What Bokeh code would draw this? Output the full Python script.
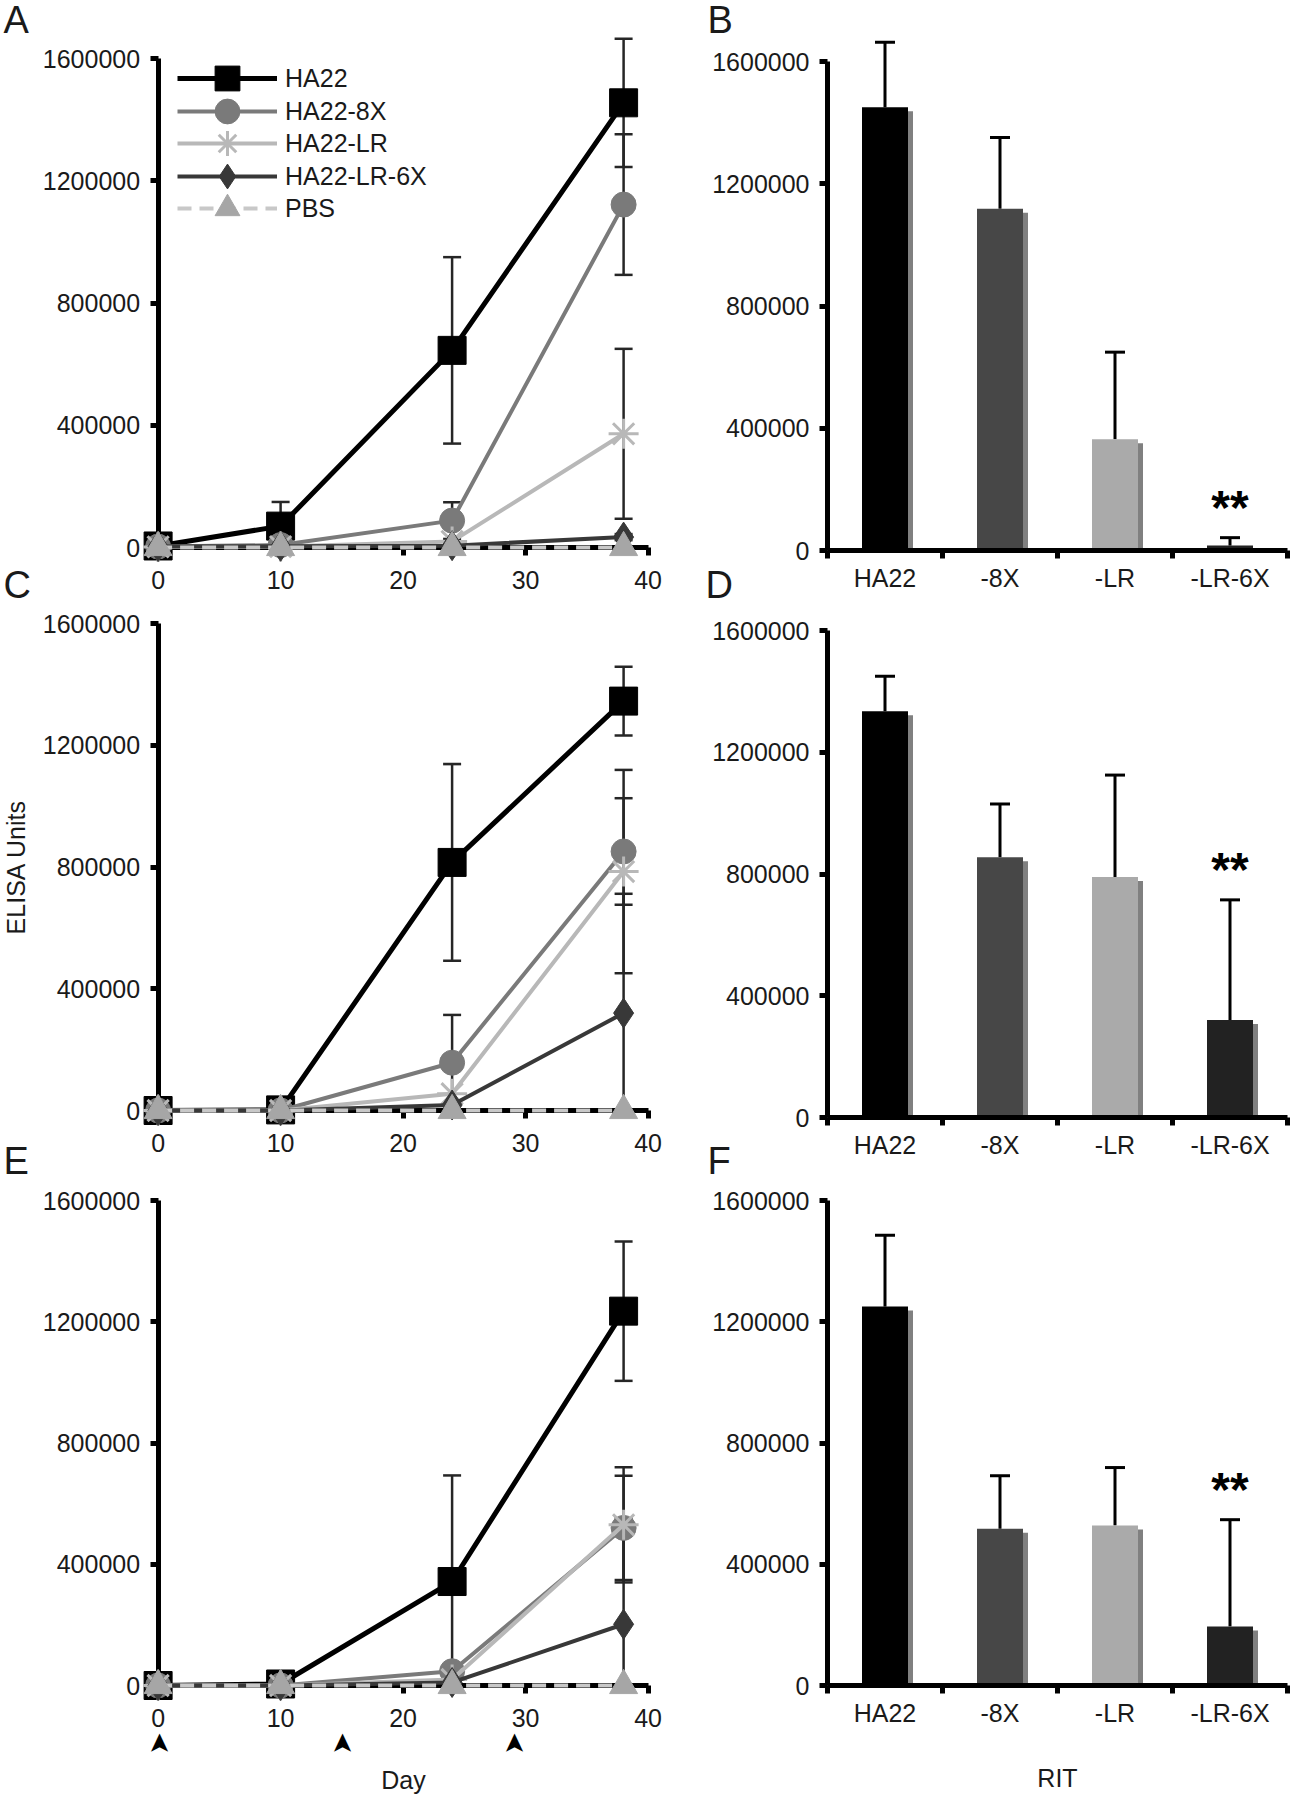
import math
from bokeh.plotting import figure
from bokeh.models import (ColumnDataSource, Whisker, TeeHead, Legend, LegendItem,
                          LinearAxis, FixedTicker, NumeralTickFormatter, Label, Range1d)
from bokeh.layouts import column, row
from bokeh.embed import file_html
from bokeh.resources import INLINE
from bokeh.core.properties import value

# ---------------------------------------------------------------- data
DAYS = [0, 10, 24, 38]
X_TICKS = [0, 10, 20, 30, 40]
Y_TICKS = [0, 400000, 800000, 1200000, 1600000]
SERIES = ["HA22", "HA22-8X", "HA22-LR", "HA22-LR-6X", "PBS"]
INJECTION_DAYS = [0, 15, 29]

# panel A
A_HA22 = [5000, 70000, 645000, 1455000]
A_HA22_ERR = [0, 79000, 305000, 210000]
A_8X = [3000, 8000, 88000, 1122000]
A_8X_ERR = [0, 0, 60000, 230000]
A_LR = [2000, 3000, 20000, 372000]
A_LR_ERR = [0, 0, 0, 278000]
A_LR6X = [3000, 4000, 6000, 34000]
A_LR6X_ERR = [0, 0, 0, 10000]
A_PBS = [0, 0, 0, 0]
A_PBS_ERR = [0, 0, 0, 0]

# panel C
C_HA22 = [0, 2000, 815000, 1345000]
C_HA22_ERR = [0, 0, 323000, 113000]
C_8X = [0, 0, 157000, 851000]
C_8X_ERR = [0, 0, 157000, 175000]
C_LR = [0, 0, 55000, 785000]
C_LR_ERR = [0, 0, 0, 334000]
C_LR6X = [0, 0, 18000, 320000]
C_LR6X_ERR = [0, 0, 0, 392000]
C_PBS = [0, 0, 0, 0]
C_PBS_ERR = [0, 0, 0, 0]

# panel E
E_HA22 = [0, 5000, 343000, 1235000]
E_HA22_ERR = [0, 0, 350000, 230000]
E_8X = [0, 0, 47000, 520000]
E_8X_ERR = [0, 0, 0, 172000]
E_LR = [0, 0, 20000, 530000]
E_LR_ERR = [0, 0, 0, 190000]
E_LR6X = [0, 0, 10000, 202000]
E_LR6X_ERR = [0, 0, 0, 350000]
E_PBS = [0, 0, 0, 0]
E_PBS_ERR = [0, 0, 0, 0]

# bar panels
CATEGORIES = ["HA22", "-8X", "-LR", "-LR-6X"]
B_VALUES = [1450000, 1118000, 364000, 16000]
B_ERR = [213000, 233000, 285000, 26000]
B_SIG = ["", "", "", "**"]
D_VALUES = [1335000, 855000, 790000, 320000]
D_ERR = [115000, 175000, 335000, 395000]
D_SIG = ["", "", "", "**"]
F_VALUES = [1250000, 517000, 528000, 195000]
F_ERR = [235000, 175000, 191000, 352000]
F_SIG = ["", "", "", "**"]

PANEL_LETTERS = ["A", "B", "C", "D", "E", "F"]

# ---------------------------------------------------------------- style
FONT = "Liberation Sans"
TXT = "#1a1a1a"
STYLE = {
    "HA22":       dict(color="#000000", mcolor="#000000", marker="square",   size=28, lw=5, dash="solid"),
    "HA22-8X":    dict(color="#7a7a7a", mcolor="#7a7a7a", marker="circle",   size=25, lw=4, dash="solid"),
    "HA22-LR":    dict(color="#b8b8b8", mcolor="#b8b8b8", marker="asterisk", size=30, lw=4, dash="solid"),
    "HA22-LR-6X": dict(color="#383838", mcolor="#383838", marker="diamond",  size=30, lw=4, dash="solid"),
    "PBS":        dict(color="#c8c8c8", mcolor="#a6a6a6", marker="triangle", size=28, lw=4, dash="14 8"),
}
BAR_COLORS = ["#000000", "#474747", "#aaaaaa", "#222222"]
SHADOW_COLOR = "#808080"

# layout (page pixels); each figure's frame fills its whole canvas
ROW_TOP = [0, 607, 1182]
ROW_BOTTOM = [607, 1182, 1798]
LEFT_X, MID_X, RIGHT_X = 0, 680, 1296
X0_PX = 157.6          # page x of day 0
DAY_PX = 12.25
CAT0_PX = 827          # page x of bar axis origin
CAT_PX = 115


def yrange(zero_px, tick_px, r):
    scale = (zero_px - tick_px) / 1600000.0
    return Range1d((zero_px - ROW_BOTTOM[r]) / scale, (zero_px - ROW_TOP[r]) / scale), scale


def style_axis(ax):
    ax.axis_line_width = 5
    ax.axis_line_color = "black"
    ax.major_tick_line_width = 5
    ax.major_tick_line_color = "black"
    ax.major_tick_out = 8
    ax.major_tick_in = 0
    ax.minor_tick_line_color = None
    ax.major_label_text_font = FONT
    ax.major_label_text_font_size = "25px"
    ax.major_label_text_color = TXT
    ax.axis_label_text_font = FONT
    ax.axis_label_text_font_size = "25px"
    ax.axis_label_text_font_style = "normal"
    ax.axis_label_text_color = TXT


def new_fig(x_rng, y_rng, w, r):
    p = figure(x_range=x_rng, y_range=y_rng, frame_width=w, frame_height=ROW_BOTTOM[r] - ROW_TOP[r],
               min_border_left=0, min_border_right=0, min_border_top=0, min_border_bottom=0,
               x_axis_location=None, y_axis_location=None, toolbar_location=None, tools="",
               output_backend="svg")
    p.title = None
    p.outline_line_color = None
    p.xgrid.visible = False
    p.ygrid.visible = False
    return p


def add_letters(p, letters, to_x, to_y):
    # panel letters, given as (text, left px, anchor px) on the page
    for text, lx, ly in letters:
        p.add_layout(Label(x=to_x(lx), y=to_y(ly), text=text, text_font=FONT, text_font_size="38px",
                           text_color=TXT, text_align="left", text_baseline="alphabetic"))


def line_panel(vals, errs, zero_px, tick_px, r, letters,
               legend=False, ylabel=None, xlabel=None, arrows=False):
    yr, scale = yrange(zero_px, tick_px, r)
    xr = Range1d((LEFT_X - X0_PX) / DAY_PX, (MID_X - X0_PX) / DAY_PX)
    p = new_fig(xr, yr, MID_X - LEFT_X, r)

    xa = LinearAxis(ticker=FixedTicker(ticks=X_TICKS), fixed_location=0, bounds=(0, 40))
    style_axis(xa)
    xa.major_label_standoff = 15
    xa.level = "underlay"
    if xlabel:
        xa.axis_label = xlabel
        xa.axis_label_standoff = 36
    p.add_layout(xa, "below")

    ya = LinearAxis(ticker=FixedTicker(ticks=Y_TICKS), fixed_location=0, bounds=(0, 1600000),
                    formatter=NumeralTickFormatter(format="0"))
    style_axis(ya)
    ya.major_label_standoff = 10
    ya.level = "underlay"
    if ylabel:
        ya.axis_label = ylabel
        ya.axis_label_standoff = 10
    p.add_layout(ya, "left")

    # error bars (beneath the lines)
    for name in SERIES:
        v, e = vals[name], errs[name]
        idx = [i for i in range(len(DAYS)) if e[i] > 0]
        if not idx:
            continue
        src = ColumnDataSource(dict(x=[DAYS[i] for i in idx],
                                    lower=[max(v[i] - e[i], 0) for i in idx],
                                    upper=[v[i] + e[i] for i in idx]))
        p.add_layout(Whisker(source=src, base="x", lower="lower", upper="upper", dimension="height",
                             level="underlay", line_width=2.5, line_color="#262626",
                             upper_head=TeeHead(size=18, line_width=2.5, line_color="#262626"),
                             lower_head=TeeHead(size=18, line_width=2.5, line_color="#262626")))

    items = []
    for name in SERIES:
        s = STYLE[name]
        src = ColumnDataSource(dict(x=DAYS, y=vals[name]))
        lr = p.line("x", "y", source=src, line_color=s["color"], line_width=s["lw"], line_dash=s["dash"])
        if s["marker"] == "asterisk":
            sr = p.scatter("x", "y", source=src, marker="asterisk", size=s["size"],
                           line_color=s["mcolor"], line_width=3)
        else:
            sr = p.scatter("x", "y", source=src, marker=s["marker"], size=s["size"],
                           fill_color=s["mcolor"], line_color=s["mcolor"], line_width=1)
        items.append(LegendItem(label=name, renderers=[lr, sr]))

    if legend:
        # two interleaved legends give the tight row pitch with full-size markers
        gh, sp = 62, 3
        frame_h = ROW_BOTTOM[r] - ROW_TOP[r]
        for k, first_center in ((0, 78), (1, 111)):
            sub = items[k::2]
            height = len(sub) * gh + (len(sub) - 1) * sp
            top = first_center - gh / 2 - ROW_TOP[r]
            lg = Legend(items=sub, location=(177 - LEFT_X, frame_h - (top + height)),
                        margin=0, padding=0, spacing=sp,
                        glyph_width=100, glyph_height=gh, label_standoff=8,
                        label_text_font=FONT, label_text_font_size="25px", label_text_color=TXT,
                        background_fill_alpha=0, border_line_alpha=0)
            p.add_layout(lg)

    if arrows:
        arrow_y = (zero_px - 1743) / scale
        p.text(x=INJECTION_DAYS, y=[arrow_y] * len(INJECTION_DAYS), text=["\u27a4"] * len(INJECTION_DAYS),
               angle=math.pi / 2, text_align="center", text_baseline="middle",
               text_font=value("DejaVu Sans"), text_font_size="27px", text_color="black")

    add_letters(p, letters, lambda px: (px - X0_PX) / DAY_PX, lambda py: (zero_px - py) / scale)
    return p


def bar_panel(values, errs, sig, zero_px, tick_px, r, letters, xlabel=None):
    yr, scale = yrange(zero_px, tick_px, r)
    xr = Range1d((MID_X - CAT0_PX) / CAT_PX, (RIGHT_X - CAT0_PX) / CAT_PX)
    p = new_fig(xr, yr, RIGHT_X - MID_X, r)

    centers = [i + 0.5 for i in range(len(CATEGORIES))]
    bounds_ticks = list(range(len(CATEGORIES) + 1))

    xa = LinearAxis(ticker=FixedTicker(ticks=centers, minor_ticks=bounds_ticks), fixed_location=0,
                    bounds=(0, len(CATEGORIES)),
                    major_label_overrides={c: name for c, name in zip(centers, CATEGORIES)})
    style_axis(xa)
    xa.major_tick_line_alpha = 0
    xa.minor_tick_line_color = "black"
    xa.minor_tick_line_width = 5
    xa.minor_tick_out = 8
    xa.minor_tick_in = 0
    xa.major_label_standoff = 5
    if xlabel:
        xa.axis_label = xlabel
        xa.axis_label_standoff = 34
    p.add_layout(xa, "below")

    ya = LinearAxis(ticker=FixedTicker(ticks=Y_TICKS), fixed_location=0, bounds=(0, 1600000),
                    formatter=NumeralTickFormatter(format="0"))
    style_axis(ya)
    ya.major_label_standoff = 10
    p.add_layout(ya, "left")

    dx = 5.0 / CAT_PX
    dy = 4.0 / scale
    p.vbar(x=[c + dx for c in centers], top=[max(v - dy, 0) for v in values], bottom=0, width=0.40,
           fill_color=SHADOW_COLOR, line_color=None)
    p.vbar(x=centers, top=values, bottom=0, width=0.40, fill_color=BAR_COLORS, line_color=None)

    src = ColumnDataSource(dict(x=centers, lower=values, upper=[v + e for v, e in zip(values, errs)]))
    p.add_layout(Whisker(source=src, base="x", lower="lower", upper="upper", dimension="height",
                         line_width=3, line_color="black", lower_head=None,
                         upper_head=TeeHead(size=20, line_width=3, line_color="black")))

    gap = 30.0 / scale
    sx = [c for c, s in zip(centers, sig) if s]
    sy = [v + e + gap for v, e, s in zip(values, errs, sig) if s]
    st = [s for s in sig if s]
    p.text(x=sx, y=sy, text=st, text_align="center", text_baseline="alphabetic",
           text_font=value(FONT), text_font_size="48px", text_font_style="bold", text_color="black")

    add_letters(p, letters, lambda px: (px - CAT0_PX) / CAT_PX, lambda py: (zero_px - py) / scale)
    return p


def pack(h, e8, lr, l6, pbs):
    return dict(zip(SERIES, [h, e8, lr, l6, pbs]))


L = PANEL_LETTERS
# each letter sits in whichever canvas covers its spot on the page
pA = line_panel(pack(A_HA22, A_8X, A_LR, A_LR6X, A_PBS),
                pack(A_HA22_ERR, A_8X_ERR, A_LR_ERR, A_LR6X_ERR, A_PBS_ERR),
                547, 58, 0, [(L[0], 3, 19), (L[2], 3, 584)], legend=True)
pB = bar_panel(B_VALUES, B_ERR, B_SIG, 550, 61, 0, [(L[1], 707, 19), (L[3], 705, 584)])
pC = line_panel(pack(C_HA22, C_8X, C_LR, C_LR6X, C_PBS),
                pack(C_HA22_ERR, C_8X_ERR, C_LR_ERR, C_LR6X_ERR, C_PBS_ERR),
                1110, 623, 1, [(L[4], 3, 1160)], ylabel="ELISA Units")
pD = bar_panel(D_VALUES, D_ERR, D_SIG, 1117, 630, 1, [(L[5], 707, 1160)])
pE = line_panel(pack(E_HA22, E_8X, E_LR, E_LR6X, E_PBS),
                pack(E_HA22_ERR, E_8X_ERR, E_LR_ERR, E_LR6X_ERR, E_PBS_ERR),
                1685, 1200, 2, [], xlabel="Day", arrows=True)
pF = bar_panel(F_VALUES, F_ERR, F_SIG, 1685, 1200, 2, [], xlabel="RIT")

layout = column(row(pA, pB), row(pC, pD), row(pE, pF))
open("out.html", "w").write(file_html(layout, INLINE))
